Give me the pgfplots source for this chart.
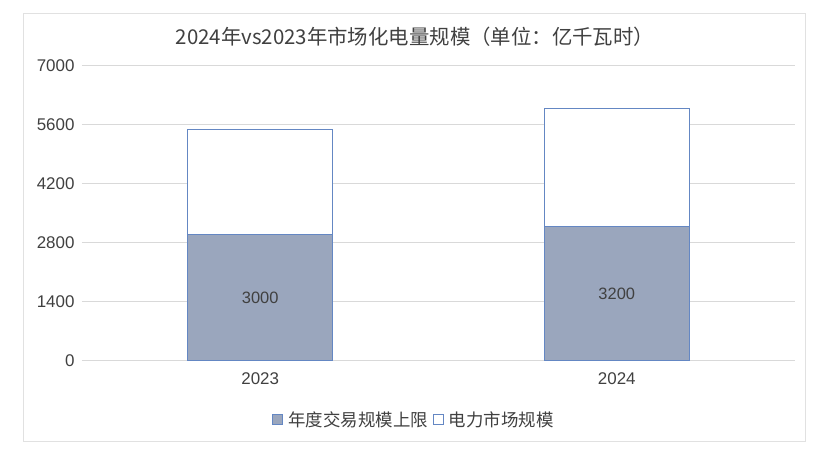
\documentclass[border=0pt]{standalone}
\usepackage{fontspec}
\setmainfont{Liberation Sans}
\newfontfamily\cjk{Noto Sans CJK SC}
\usepackage{pgfplots}
\pgfplotsset{compat=1.18}
\definecolor{txt}{RGB}{64,64,64}
\definecolor{gridc}{RGB}{217,217,217}
\definecolor{framec}{RGB}{225,225,225}
\definecolor{barfill}{RGB}{154,166,189}
\definecolor{baredge}{RGB}{100,135,195}
\begin{document}
\begin{tikzpicture}[x=1bp,y=1bp]
\useasboundingbox (-82,-96) rectangle (747,361);
\draw[framec, line width=1bp] (-58,-81) rectangle (723,347);
\node[font=\cjk\fontsize{20.5}{24}\selectfont, text=txt] at (333,324) {2024年vs2023年市场化电量规模（单位：亿千瓦时）};
\begin{axis}[
  at={(0,0)}, anchor=south west,
  scale only axis, width=713bp, height=295bp,
  xmin=-0.5, xmax=1.5, ymin=0, ymax=7000,
  ytick={0,1400,2800,4200,5600,7000},
  xtick={0,1}, xticklabels={2023,2024},
  ymajorgrids, grid style={gridc, line width=1bp},
  axis x line*=bottom, axis y line*=left,
  y axis line style={draw=none},
  x axis line style={gridc, line width=1bp, -},
  major tick length=0pt, tick style={draw=none},
  /pgf/number format/assume math mode=true,
  /pgf/number format/1000 sep={},
  ticklabel style={font=\fontsize{17}{19}\selectfont, text=txt},
  yticklabel style={xshift=-4bp},
  xticklabel style={yshift=-8bp},
  ybar, bar width=0.406, bar shift=0pt,
  legend style={at={(0.4656,-0.2)}, anchor=center, draw=none, fill=none,
    legend columns=2, font=\cjk\fontsize{17.5}{20}\selectfont, text=txt,
    /tikz/every even column/.append style={column sep=3bp},
    /tikz/every odd column/.append style={column sep=3bp}},
  legend image code/.code={\draw[#1, line width=1bp] (0bp,-5bp) rectangle (10bp,5bp);},
]
\addplot[fill=white, draw=baredge, line width=1bp, forget plot] coordinates {(0,5500) (1,6000)};
\addplot[fill=barfill, draw=baredge, line width=1bp,
  nodes near coords,
  visualization depends on={y \as \rawy},
  every node near coord/.append style={anchor=center, font=\fontsize{16.5}{19}\selectfont, text=txt, shift={(axis direction cs:0,-\rawy/2)}}]
  coordinates {(0,3000) (1,3200)};
\addlegendentry{年度交易规模上限}
\addlegendimage{fill=white, draw=baredge}
\addlegendentry{电力市场规模}
\end{axis}
\end{tikzpicture}
\end{document}
